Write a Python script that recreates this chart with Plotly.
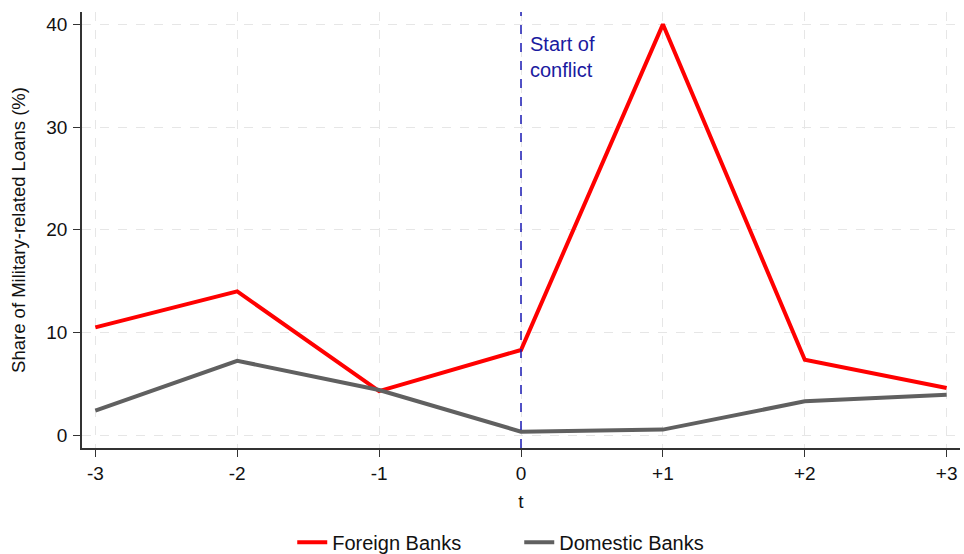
import plotly.graph_objects as go

t_vals = [-3, -2, -1, 0, 1, 2, 3]
t_labels = ["-3", "-2", "-1", "0", "+1", "+2", "+3"]
foreign = [10.5, 14.0, 4.3, 8.3, 40.0, 7.35, 4.6]
domestic = [2.4, 7.25, 4.4, 0.35, 0.55, 3.3, 3.95]
y_ticks = [0, 10, 20, 30, 40]

fig = go.Figure()
fig.add_trace(go.Scatter(x=t_vals, y=foreign, mode="lines", name="Foreign Banks",
                         line=dict(color="#ff0000", width=4)))
fig.add_trace(go.Scatter(x=t_vals, y=domestic, mode="lines", name="Domestic Banks",
                         line=dict(color="#606060", width=4)))

fig.add_shape(type="line", x0=0, x1=0, y0=0, y1=1, xref="x", yref="paper",
              line=dict(color="#1a1ab4", width=1.5, dash="dash"))
fig.add_annotation(x=0, y=36.8, xref="x", yref="y", text="Start of<br>conflict",
                   showarrow=False, xanchor="left", yanchor="middle", xshift=7,
                   align="left", font=dict(color="#1a1aa0", size=20))

fig.update_layout(
    width=964, height=554,
    margin=dict(l=82, r=4, t=12, b=106, autoexpand=False),
    paper_bgcolor="white", plot_bgcolor="white",
    font=dict(family="Liberation Sans, Arial, sans-serif", size=19, color="#111111"),
    showlegend=True,
    legend=dict(orientation="h", x=0.498, xanchor="center", y=-0.216, yanchor="middle",
                font=dict(size=20), entrywidth=182, entrywidthmode="pixels",
                tracegroupgap=0),
    xaxis=dict(range=[-3.094, 3.094], tickvals=t_vals, ticktext=t_labels,
               title=dict(text="t", font=dict(size=19), standoff=12),
               showline=True, linecolor="#333333", linewidth=1.5,
               ticks="outside", ticklen=7, tickcolor="#333333",
               tickfont=dict(size=19), ticklabelstandoff=0,
               showgrid=True, gridcolor="#e6e6e6", griddash="dash", gridwidth=1,
               zeroline=False, automargin=False),
    yaxis=dict(range=[-1.24, 41.2], tickvals=y_ticks,
               title=dict(text="Share of Military-related Loans (%)", font=dict(size=18.5), standoff=16),
               showline=True, linecolor="#333333", linewidth=1.5,
               ticks="outside", ticklen=7, tickcolor="#333333",
               tickfont=dict(size=19), ticklabelstandoff=2,
               showgrid=True, gridcolor="#e6e6e6", griddash="dash", gridwidth=1,
               zeroline=False, automargin=False),
)

fig.write_html("out.html", post_script="document.body.style.margin='0';",
               config={"displayModeBar": False})
